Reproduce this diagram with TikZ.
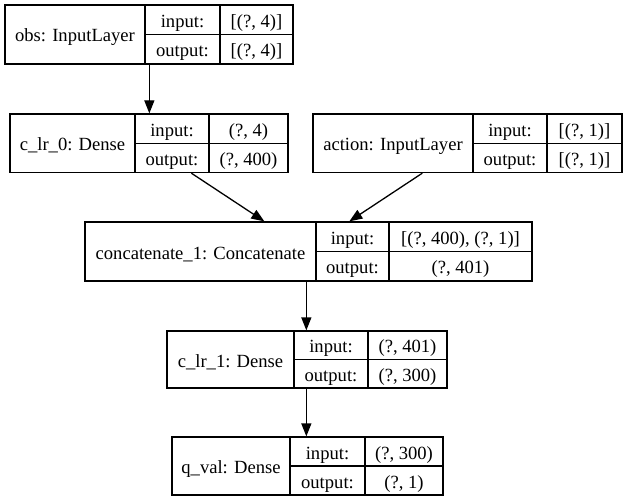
\documentclass[tikz,border=0pt]{standalone}
\usepackage{fontspec}
\setmainfont{Liberation Serif}
\usetikzlibrary{arrows.meta}
\newcommand\krec[8]{%
 \pgfmathsetmacro\krYm{(#6+#7)/2}%
 \pgfmathsetmacro\krCx{(#2+#5)/2}%
 \pgfmathsetmacro\krW{#5-#2}%
 \pgfmathsetmacro\krH{#7-#6}%
 \node[box, minimum width=\krW pt, minimum height=\krH pt] (#1) at (\krCx,\krYm) {};
 \draw[div] (#3,#6) -- (#3,#7);
 \draw[div] (#4,#6) -- (#4,#7);
 \draw[div] (#3,\krYm) -- (#5,\krYm);
 \pgfmathsetmacro\krRa{(#6+\krYm)/2+7.5}%
 \pgfmathsetmacro\krRb{(\krYm+#7)/2+7.5}%
 \pgfmathsetmacro\krLx{(#2+#3)/2}%
 \pgfmathsetmacro\krKx{(#3+#4)/2}%
 \pgfmathsetmacro\krVx{(#4+#5)/2}%
 \pgfmathsetmacro\krLb{\krYm+7.5}%
 \node[txt] (#1-name) at (\krLx,\krLb) {#8};
 \node[txt] (#1-ik) at (\krKx,\krRa) {input:};
 \node[txt] (#1-ok) at (\krKx,\krRb) {output:};
 \coordinate (#1-iv) at (\krVx,\krRa);
 \coordinate (#1-ov) at (\krVx,\krRb);
}
\begin{document}
\begin{tikzpicture}[x=1pt,y=-1pt,
  box/.style={draw,line width=1.3pt,inner sep=0pt,rectangle},
  div/.style={line width=1.3pt},
  txt/.style={anchor=base,inner sep=0pt,font=\fontsize{18.6}{22}\selectfont},
  arr/.style={line width=1.3pt,-{Triangle[length=13pt,width=10pt]}}]
\useasboundingbox (0,0) rectangle (625,503);
\krec{obs}{5}{145}{220}{293}{5}{64}{obs: InputLayer}
\node[txt] (obs-ivt) at (obs-iv) {[(?, 4)]};
\node[txt] (obs-ovt) at (obs-ov) {[(?, 4)]};
\krec{clr0}{10}{135}{209}{288}{114}{172.5}{c\_lr\_0: Dense}
\node[txt] (clr0-ivt) at (clr0-iv) {(?, 4)};
\node[txt] (clr0-ovt) at (clr0-ov) {(?, 400)};
\krec{act}{313}{473}{547}{622}{114}{172.5}{action: InputLayer}
\node[txt] (act-ivt) at (act-iv) {[(?, 1)]};
\node[txt] (act-ovt) at (act-ov) {[(?, 1)]};
\krec{cat}{85}{316}{389}{532}{222}{281}{concatenate\_1: Concatenate}
\node[txt] (cat-ivt) at (cat-iv) {[(?, 400), (?, 1)]};
\node[txt] (cat-ovt) at (cat-ov) {(?, 401)};
\krec{clr1}{167}{294}{368}{447}{331}{388}{c\_lr\_1: Dense}
\node[txt] (clr1-ivt) at (clr1-iv) {(?, 401)};
\node[txt] (clr1-ovt) at (clr1-ov) {(?, 300)};
\krec{qv}{172}{290}{365}{443}{437}{495}{q\_val: Dense}
\node[txt] (qv-ivt) at (qv-iv) {(?, 300)};
\node[txt] (qv-ovt) at (qv-ov) {(?, 1)};
\draw[arr] ([xshift=145pt]obs.south west) -- ([xshift=140pt]clr0.north west);
\draw[arr] ([xshift=182pt]clr0.south west) -- ([xshift=180pt]cat.north west);
\draw[arr] ([xshift=110pt]act.south west) -- ([xshift=265pt]cat.north west);
\draw[arr] ([xshift=222pt]cat.south west) -- ([xshift=140pt]clr1.north west);
\draw[arr] ([xshift=140pt]clr1.south west) -- ([xshift=135pt]qv.north west);
\end{tikzpicture}
\end{document}
